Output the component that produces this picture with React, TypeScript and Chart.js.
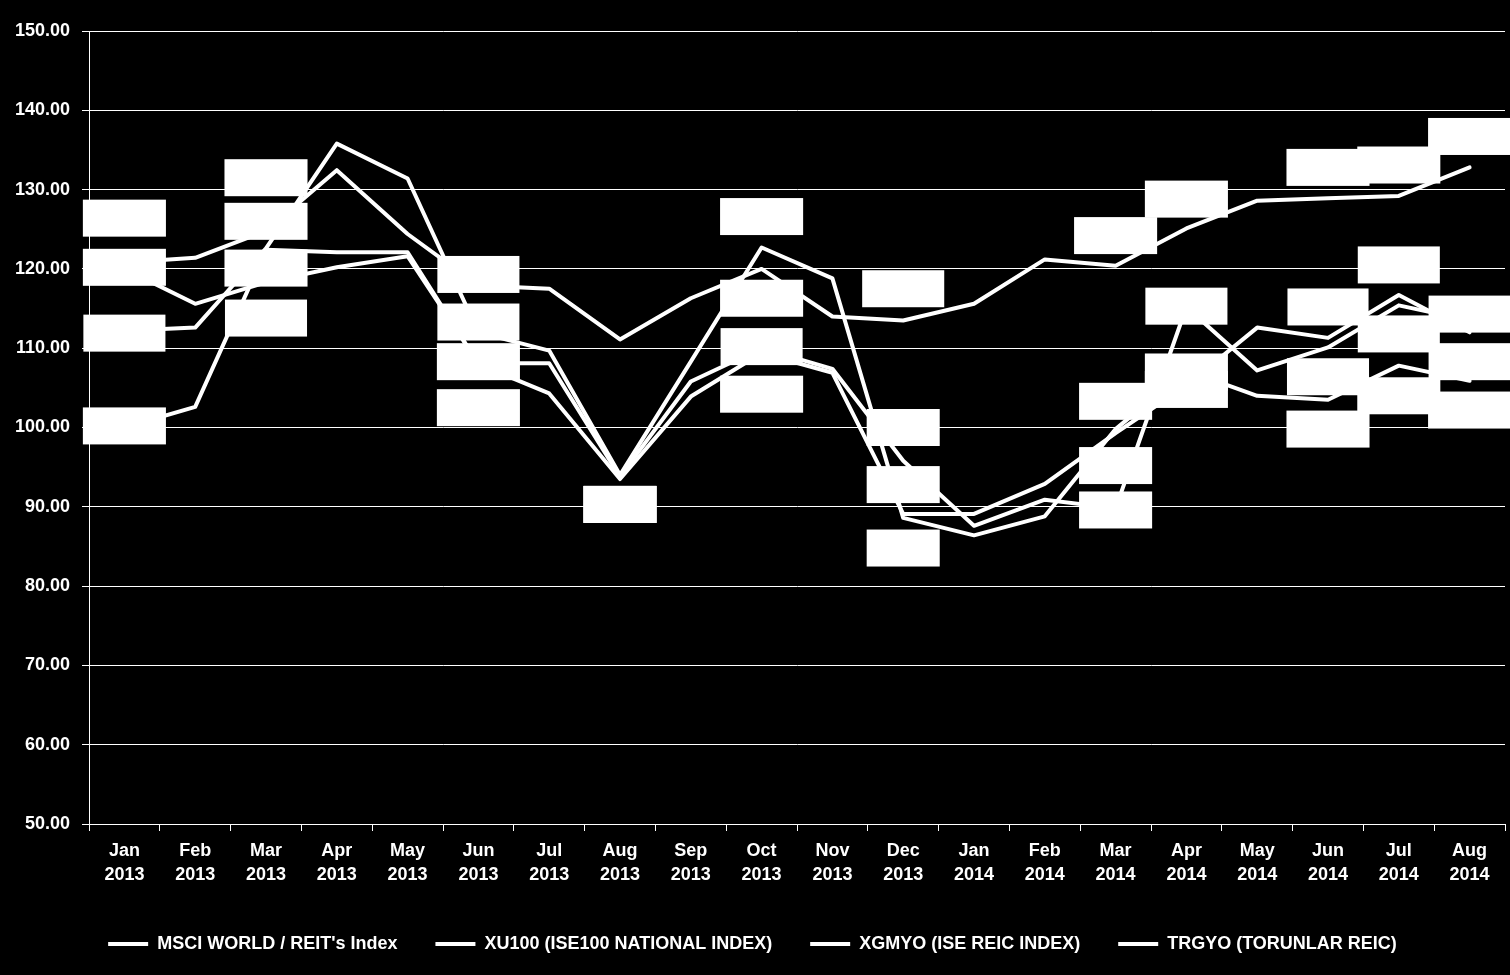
import React, { useEffect, useRef } from 'react';
import { Chart, registerables } from 'chart.js';

Chart.register(...registerables);

// ---- data ----
const monthNames = ['Jan', 'Feb', 'Mar', 'Apr', 'May', 'Jun', 'Jul', 'Aug', 'Sep', 'Oct', 'Nov', 'Dec',
  'Jan', 'Feb', 'Mar', 'Apr', 'May', 'Jun', 'Jul', 'Aug'];
const yearNames = ['2013', '2013', '2013', '2013', '2013', '2013', '2013', '2013', '2013', '2013', '2013', '2013',
  '2014', '2014', '2014', '2014', '2014', '2014', '2014', '2014'];

const seriesNames = [
  "MSCI WORLD / REIT's Index",
  'XU100 (ISE100 NATIONAL INDEX)',
  'XGMYO (ISE REIC INDEX)',
  'TRGYO (TORUNLAR REIC)',
];

const msciWorld = [120.8, 121.4, 124.8, 132.45, 124.4, 117.9, 117.5, 111.1, 116.3, 120.0, 114.0, 113.5,
  115.6, 121.2, 120.4, 125.1, 128.6, 128.9, 129.2, 132.8];
const xu100 = [120.0, 115.6, 118.3, 120.2, 121.6, 108.1, 108.1, 93.8, 105.8, 110.0, 107.4, 95.8,
  87.6, 90.9, 89.8, 115.2, 107.2, 110.1, 115.4, 113.5];
const xgmyo = [100.0, 102.6, 122.4, 122.1, 122.1, 108.0, 104.3, 93.5, 103.9, 109.4, 106.9, 89.1,
  89.1, 92.9, 99.3, 105.3, 112.6, 111.3, 116.7, 112.0];
const trgyo = [112.2, 112.6, 122.6, 135.8, 131.4, 112.0, 109.7, 94.0, 108.3, 122.7, 118.8, 88.6,
  86.4, 88.8, 99.8, 107.2, 104.0, 103.5, 107.8, 105.9];

// where each data label box sits (value units), null = no label
const msciLabelAt = [126.4, null, 131.5, null, null, 119.3, null, null, null, 116.3, null, 117.5,
  null, null, 124.2, 128.8, null, 132.8, 133.1, 136.7];
const xu100LabelAt = [120.2, null, 113.8, null, null, 108.3, null, 90.3, null, 110.2, null, 100.0,
  null, null, 89.6, 115.3, null, 106.4, 111.8, 108.3];
const xgmyoLabelAt = [100.2, null, 120.1, null, null, 102.5, null, 90.3, null, 104.2, null, 92.8,
  null, null, 95.2, 104.8, null, 115.2, 120.5, 114.3];
const trgyoLabelAt = [111.9, null, 126.0, null, null, 113.3, null, 90.3, null, 126.6, null, 84.8,
  null, null, 103.3, 107.0, null, 99.8, 104.0, 102.2];

const yMin = 50;
const yMax = 150;
const yStep = 10;

const FONT = '"Liberation Sans", Arial, sans-serif';

const labelBoxesPlugin = {
  id: 'labelBoxes',
  afterDatasetsDraw(chart: any) {
    const ctx = chart.ctx;
    const xs = chart.scales.x;
    const ys = chart.scales.y;
    const positions = [msciLabelAt, xu100LabelAt, xgmyoLabelAt, trgyoLabelAt];
    ctx.save();
    ctx.font = `bold 18px ${FONT}`;
    ctx.textAlign = 'center';
    ctx.textBaseline = 'middle';
    chart.data.datasets.forEach((ds: any, i: number) => {
      const pos = positions[i];
      pos.forEach((v: number | null, j: number) => {
        if (v == null) return;
        const text = Number(ds.data[j]).toFixed(2);
        const w = ctx.measureText(text).width + 28;
        const h = 37;
        const cx = xs.getPixelForValue(j);
        const cy = ys.getPixelForValue(v);
        ctx.fillStyle = '#ffffff';
        ctx.fillRect(cx - w / 2, cy - h / 2, w, h);
        ctx.fillStyle = '#ffffff';
        ctx.fillText(text, cx, cy);
      });
    });
    ctx.restore();
  },
};

export default function App() {
  const canvasRef = useRef<HTMLCanvasElement | null>(null);

  useEffect(() => {
    document.body.style.margin = '0';
    document.body.style.background = '#000';
    const canvas = canvasRef.current;
    if (!canvas) return;
    const labels = monthNames.map((m, i) => [m, yearNames[i]]);
    const seriesData = [msciWorld, xu100, xgmyo, trgyo];
    const chart = new Chart(canvas, {
      type: 'line',
      data: {
        labels,
        datasets: seriesData.map((d, i) => ({
          label: seriesNames[i],
          data: d,
          borderColor: '#ffffff',
          backgroundColor: '#ffffff',
          borderWidth: 4,
          pointRadius: 0,
          pointHoverRadius: 0,
          tension: 0,
          fill: false,
          borderJoinStyle: 'round' as const,
          borderCapStyle: 'round' as const,
        })),
      },
      options: {
        responsive: false,
        animation: false,
        layout: { padding: { left: 0, right: 5, top: 31, bottom: 12 } },
        plugins: {
          legend: {
            position: 'bottom',
            labels: {
              color: '#ffffff',
              font: { family: FONT, size: 18, weight: 'bold' },
              usePointStyle: true,
              pointStyle: 'line',
              pointStyleWidth: 40,
              padding: 38,
            },
          },
          tooltip: { enabled: false },
        },
        scales: {
          x: {
            type: 'category',
            offset: true,
            grid: {
              offset: true,
              drawOnChartArea: false,
              color: '#ffffff',
              tickLength: 7,
              lineWidth: 1,
            },
            border: { color: '#ffffff', width: 1 },
            ticks: {
              color: '#ffffff',
              autoSkip: false,
              maxRotation: 0,
              padding: 8,
              font: { family: FONT, size: 18, weight: 'bold', lineHeight: 1.33 },
            },
            afterFit: (s: any) => { s.height = 73; },
          },
          y: {
            min: yMin,
            max: yMax,
            grid: { color: '#ffffff', lineWidth: 1, tickLength: 7 },
            border: { color: '#ffffff', width: 1 },
            ticks: {
              stepSize: yStep,
              color: '#ffffff',
              padding: 12,
              font: { family: FONT, size: 18, weight: 'bold' },
              callback: (v: any) => Number(v).toFixed(2),
            },
            afterFit: (s: any) => { s.width = 89; },
          },
        },
      },
      plugins: [labelBoxesPlugin],
    });
    return () => chart.destroy();
  }, []);

  return (
    <div style={{ width: 1510, height: 975, background: '#000' }}>
      <canvas ref={canvasRef} width={1510} height={975} style={{ display: 'block' }} />
    </div>
  );
}
